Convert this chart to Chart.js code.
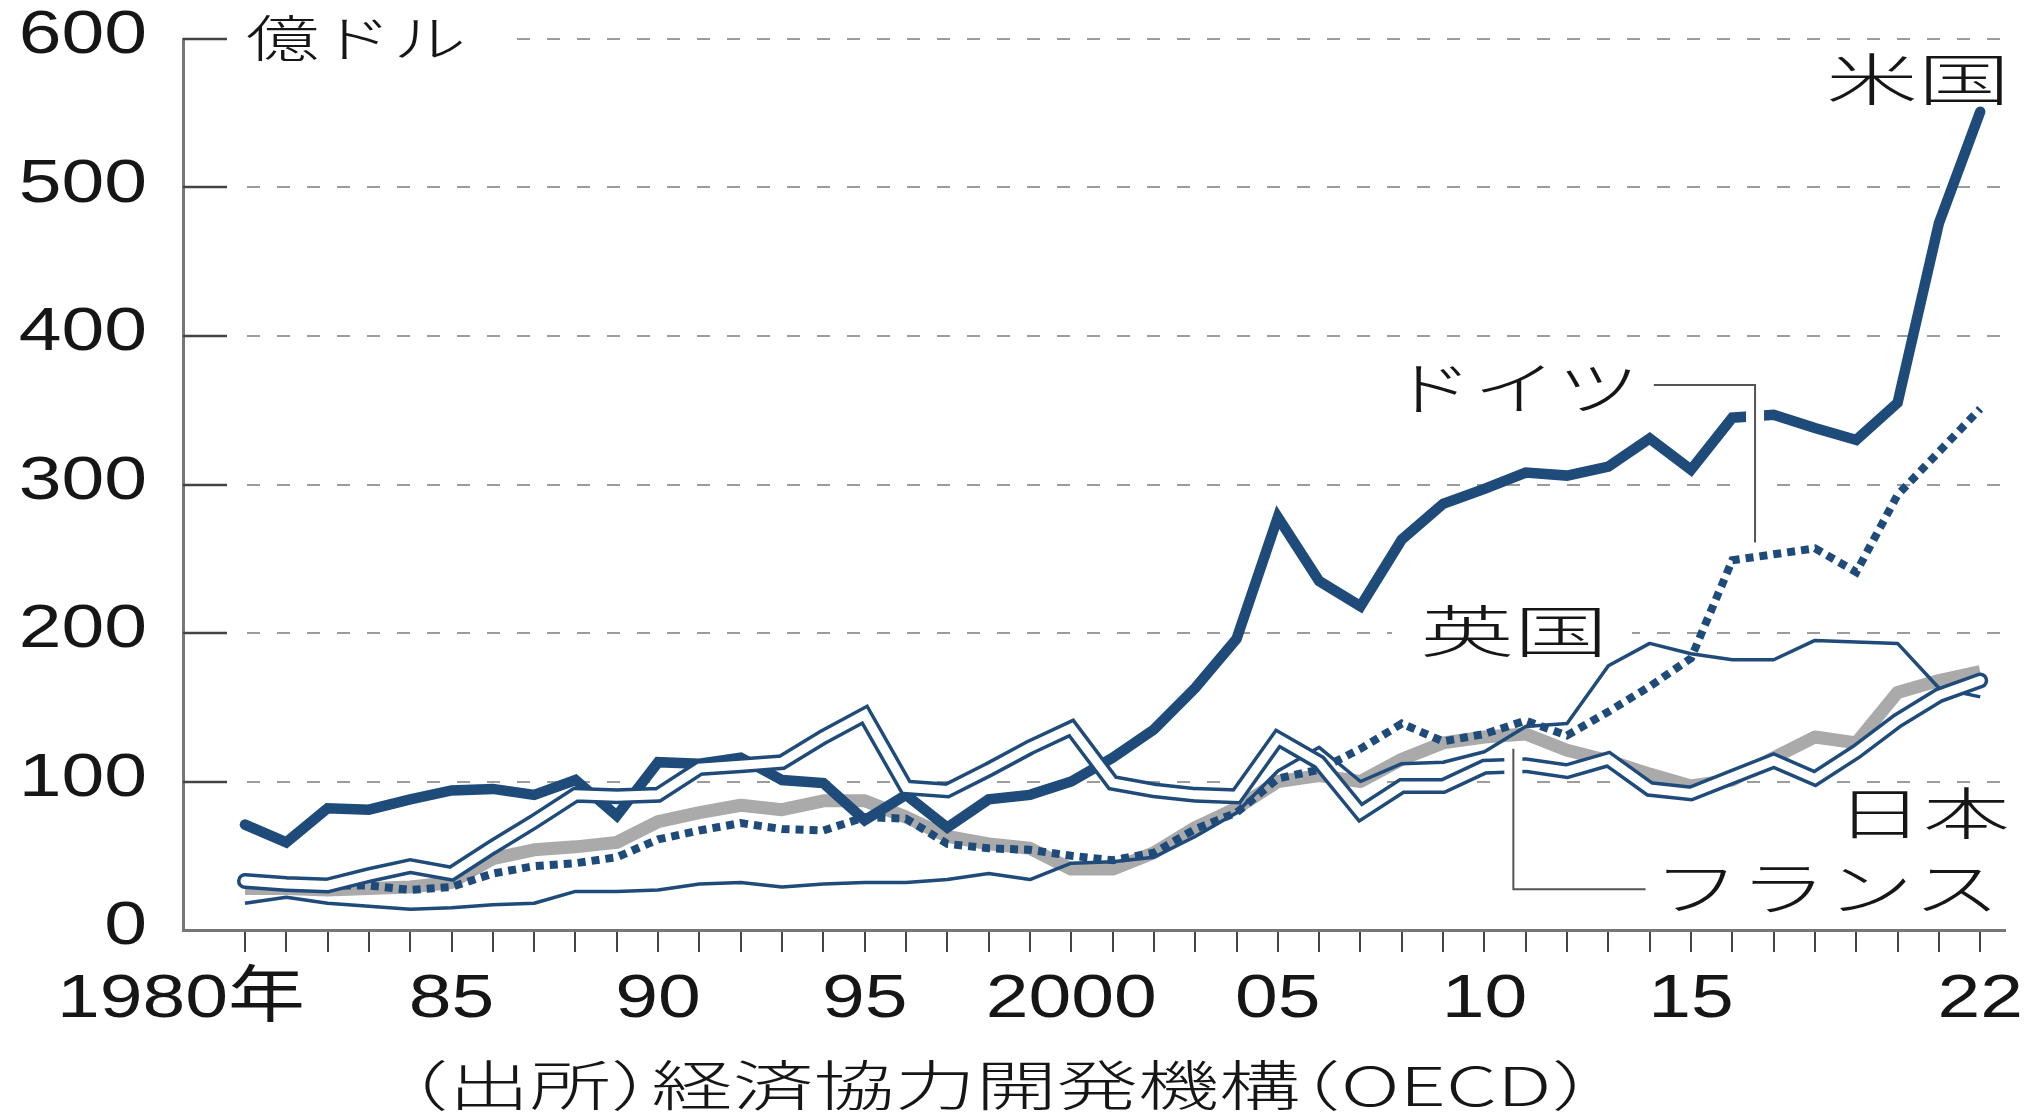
<!DOCTYPE html>
<html lang="ja">
<head>
<meta charset="utf-8">
<title>主要国のODA</title>
<script src="https://cdn.jsdelivr.net/npm/chart.js@4.4.1/dist/chart.umd.min.js"></script>
<style>
  html, body { margin: 0; padding: 0; background: #fff; }
  #wrap { width: 2034px; height: 1112px; position: relative; }
</style>
</head>
<body>
<div id="wrap"><canvas id="chartOda"></canvas></div>
<script>
// 億ドル, 1980-2022
const years = [1980, 1981, 1982, 1983, 1984, 1985, 1986, 1987, 1988, 1989,
  1990, 1991, 1992, 1993, 1994, 1995, 1996, 1997, 1998, 1999,
  2000, 2001, 2002, 2003, 2004, 2005, 2006, 2007, 2008, 2009,
  2010, 2011, 2012, 2013, 2014, 2015, 2016, 2017, 2018, 2019,
  2020, 2021, 2022];

const usValues = [71, 59, 82, 81, 88, 94, 95, 91, 101, 77,
  113, 112, 116, 101, 99, 74, 91, 69, 88, 91,
  100, 116, 135, 163, 196, 278, 235, 218, 263, 287,
  297, 308, 306, 312, 331, 310, 345, 347, 338, 330,
  355, 476, 551];

const germanyValues = [32, 31, 30, 30, 27, 29, 38, 43, 45, 49,
  61, 67, 72, 68, 67, 76, 75, 58, 55, 54,
  50, 47, 52, 68, 79, 102, 108, 122, 139, 127,
  132, 141, 131, 147, 164, 183, 249, 253, 257, 241,
  293, 322, 351];

const ukValues = [18, 22, 18, 16, 14, 15, 17, 18, 26, 26,
  27, 31, 32, 29, 31, 32, 32, 34, 38, 34,
  45, 46, 49, 63, 79, 107, 123, 100, 112, 113,
  120, 137, 139, 178, 193, 186, 182, 182, 195, 194,
  193, 163, 157];

const japanValues = [33, 31, 30, 37, 43, 38, 56, 73, 91, 90,
  91, 109, 111, 113, 130, 145, 96, 94, 108, 123,
  136, 99, 94, 91, 90, 129, 113, 79, 97, 97,
  110, 111, 107, 115, 95, 92, 103, 114, 102, 120,
  141, 158, 168];

const franceValues = [28, 28, 27, 28, 29, 32, 48, 54, 56, 59,
  73, 79, 84, 81, 87, 87, 76, 63, 58, 55,
  41, 41, 52, 69, 82, 100, 104, 100, 115, 126,
  130, 132, 121, 114, 105, 97, 101, 116, 130, 126,
  160, 168, 174];

const yTicks = [0, 100, 200, 300, 400, 500, 600];
const xTickYears = [1980, 1985, 1990, 1995, 2000, 2005, 2010, 2015, 2022];
const xTickLabels = ['1980年', '85', '90', '95', '2000', '05', '10', '15', '22'];

const NAVY = '#1f4b7a';
const GRAY = '#aaaaaa';
const INK = '#161616';
const CJK = '"Noto Sans CJK JP", sans-serif';
const NUM = '"Liberation Sans", "Noto Sans CJK JP", sans-serif';

function toPoints(values) {
  return values.map((v, i) => ({ x: years[i], y: v }));
}

// full-width brackets are set half-width, like the print layout
function glyphRuns(ctx, txt) {
  const em = parseFloat(ctx.font.match(/(\d+(?:\.\d+)?)px/)[1]);
  let pos = 0;
  const runs = [];
  for (const ch of txt) {
    if (ch === '（') { runs.push([ch, pos - em * 0.5]); pos += em * 0.5; }
    else if (ch === '）') { runs.push([ch, pos]); pos += em * 0.5; }
    else { runs.push([ch, pos]); pos += ctx.measureText(ch).width; }
  }
  return { runs, width: pos };
}

// draws text stretched into [left, right]
function fitText(ctx, txt, left, right, cy, size, family) {
  ctx.font = `300 ${size}px ${family}`;
  const { runs, width } = glyphRuns(ctx, txt);
  ctx.save();
  ctx.translate(left, cy);
  ctx.scale((right - left) / width, 1);
  ctx.textAlign = 'left';
  ctx.textBaseline = 'middle';
  runs.forEach(([ch, px]) => ctx.fillText(ch, px, 0));
  ctx.restore();
}

function wideText(ctx, txt, x, cy, align, size, sx) {
  ctx.font = `${size}px ${NUM}`;
  const w = ctx.measureText(txt).width * sx;
  let left = x - w / 2;
  if (align === 'right') left = x - w;
  ctx.save();
  ctx.translate(left, cy);
  ctx.scale(sx, 1);
  ctx.textAlign = 'left';
  ctx.textBaseline = 'middle';
  ctx.fillText(txt, 0, 0);
  ctx.restore();
}

function leader(ctx, pts) {
  ctx.lineJoin = 'miter';
  ctx.lineCap = 'butt';
  [['#fff', 18], ['#555', 2]].forEach(([col, w]) => {
    ctx.strokeStyle = col;
    ctx.lineWidth = w;
    ctx.beginPath();
    pts.forEach(([px, py], i) => (i ? ctx.lineTo(px, py) : ctx.moveTo(px, py)));
    ctx.stroke();
  });
}

const odaDecor = {
  id: 'odaDecor',
  beforeDatasetsDraw(chart) {
    const { ctx, chartArea, scales: { y } } = chart;
    ctx.save();
    yTicks.forEach(v => {
      if (v === 0) return;
      const py = Math.round(y.getPixelForValue(v));
      ctx.setLineDash([]);
      ctx.strokeStyle = '#444';
      ctx.lineWidth = 2.5;
      ctx.beginPath();
      ctx.moveTo(chartArea.left, py);
      ctx.lineTo(chartArea.left + 44, py);
      ctx.stroke();
      ctx.setLineDash([13, 17]);
      ctx.strokeStyle = '#9c9c9c';
      ctx.lineWidth = 2;
      ctx.beginPath();
      ctx.moveTo(chartArea.left + 64, py);
      ctx.lineTo(chartArea.right, py);
      ctx.stroke();
    });
    ctx.setLineDash([]);
    // gaps in the gridlines behind 億ドル and 英国
    ctx.fillStyle = '#fff';
    ctx.fillRect(chartArea.left + 50, 8, 278, 60);
    ctx.fillRect(1392, 600, 240, 62);
    ctx.restore();
  },
  afterDatasetsDraw(chart) {
    const { ctx, scales: { x, y } } = chart;
    ctx.save();
    leader(ctx, [
      [x.getPixelForValue(2014.1), y.getPixelForValue(367)],
      [x.getPixelForValue(2016.55), y.getPixelForValue(367)],
      [x.getPixelForValue(2016.55), y.getPixelForValue(261)]
    ]);
    leader(ctx, [
      [x.getPixelForValue(2010.7), y.getPixelForValue(122)],
      [x.getPixelForValue(2010.7), y.getPixelForValue(27.5)],
      [x.getPixelForValue(2013.9), y.getPixelForValue(27.5)]
    ]);

    ctx.fillStyle = INK;
    // axis tick labels
    yTicks.forEach(v => {
      wideText(ctx, String(v), 147, y.getPixelForValue(v) - 3, 'right', 62, 1.24);
    });
    xTickYears.forEach((yr, i) => {
      const px = x.getPixelForValue(yr);
      if (i === 0) wideText(ctx, xTickLabels[i], px + 60, 1000, 'right', 62, 1.24);
      else wideText(ctx, xTickLabels[i], px, 1000, 'center', 62, 1.24);
    });

    // unit, series names, source
    fitText(ctx, '億ドル', 246, 466, 38, 50, CJK);
    fitText(ctx, '米国', 1826, 2010, 79, 56, CJK);
    fitText(ctx, 'ドイツ', 1390, 1640, 388, 58, CJK);
    fitText(ctx, '英国', 1420, 1608, 631, 56, CJK);
    fitText(ctx, '日本', 1836, 2010, 813, 56, CJK);
    fitText(ctx, 'フランス', 1653, 2000, 888, 58, CJK);
    fitText(ctx, '（出所）経済協力開発機構（OECD）', 408, 1592, 1085, 54, CJK);
    ctx.restore();
  }
};

const ctx = document.getElementById('chartOda').getContext('2d');
new Chart(ctx, {
  type: 'line',
  data: {
    datasets: [
      { label: '日本', data: toPoints(japanValues), borderColor: '#ffffff', borderWidth: 9,
        borderCapStyle: 'round', borderJoinStyle: 'miter' },
      { label: '日本', data: toPoints(japanValues), borderColor: NAVY, borderWidth: 16,
        borderCapStyle: 'round', borderJoinStyle: 'miter' },
      { label: '米国', data: toPoints(usValues), borderColor: NAVY, borderWidth: 10.5,
        borderCapStyle: 'round', borderJoinStyle: 'miter' },
      { label: '英国', data: toPoints(ukValues), borderColor: NAVY, borderWidth: 3.5,
        borderJoinStyle: 'round' },
      { label: 'ドイツ', data: toPoints(germanyValues), borderColor: NAVY, borderWidth: 8,
        borderDash: [8, 6], borderCapStyle: 'butt' },
      { label: 'フランス', data: toPoints(franceValues), borderColor: GRAY, borderWidth: 13,
        borderJoinStyle: 'round' }
    ]
  },
  options: {
    responsive: true,
    maintainAspectRatio: false,
    animation: false,
    devicePixelRatio: 1,
    layout: { padding: { top: 39, right: 29, left: 0, bottom: 0 } },
    elements: { point: { radius: 0 }, line: { tension: 0, fill: false } },
    plugins: {
      legend: { display: false },
      tooltip: { enabled: false }
    },
    scales: {
      x: {
        type: 'linear',
        min: 1978.5,
        max: 2022.6,
        ticks: { display: false, stepSize: 1, autoSkip: false, includeBounds: false },
        afterBuildTicks: s => { s.ticks = s.ticks.filter(t => t.value >= 1980 && t.value <= 2022); },
        afterFit: s => { s.height = 182; },
        grid: { drawOnChartArea: false, drawTicks: true, tickLength: 22, color: '#444', lineWidth: 2 },
        border: { display: true, color: '#777', width: 3 }
      },
      y: {
        min: 0,
        max: 600,
        ticks: { display: false, stepSize: 100 },
        afterFit: s => { s.width = 183; },
        grid: { display: false },
        border: { display: true, color: '#777', width: 3 }
      }
    }
  },
  plugins: [odaDecor]
});
</script>
</body>
</html>
